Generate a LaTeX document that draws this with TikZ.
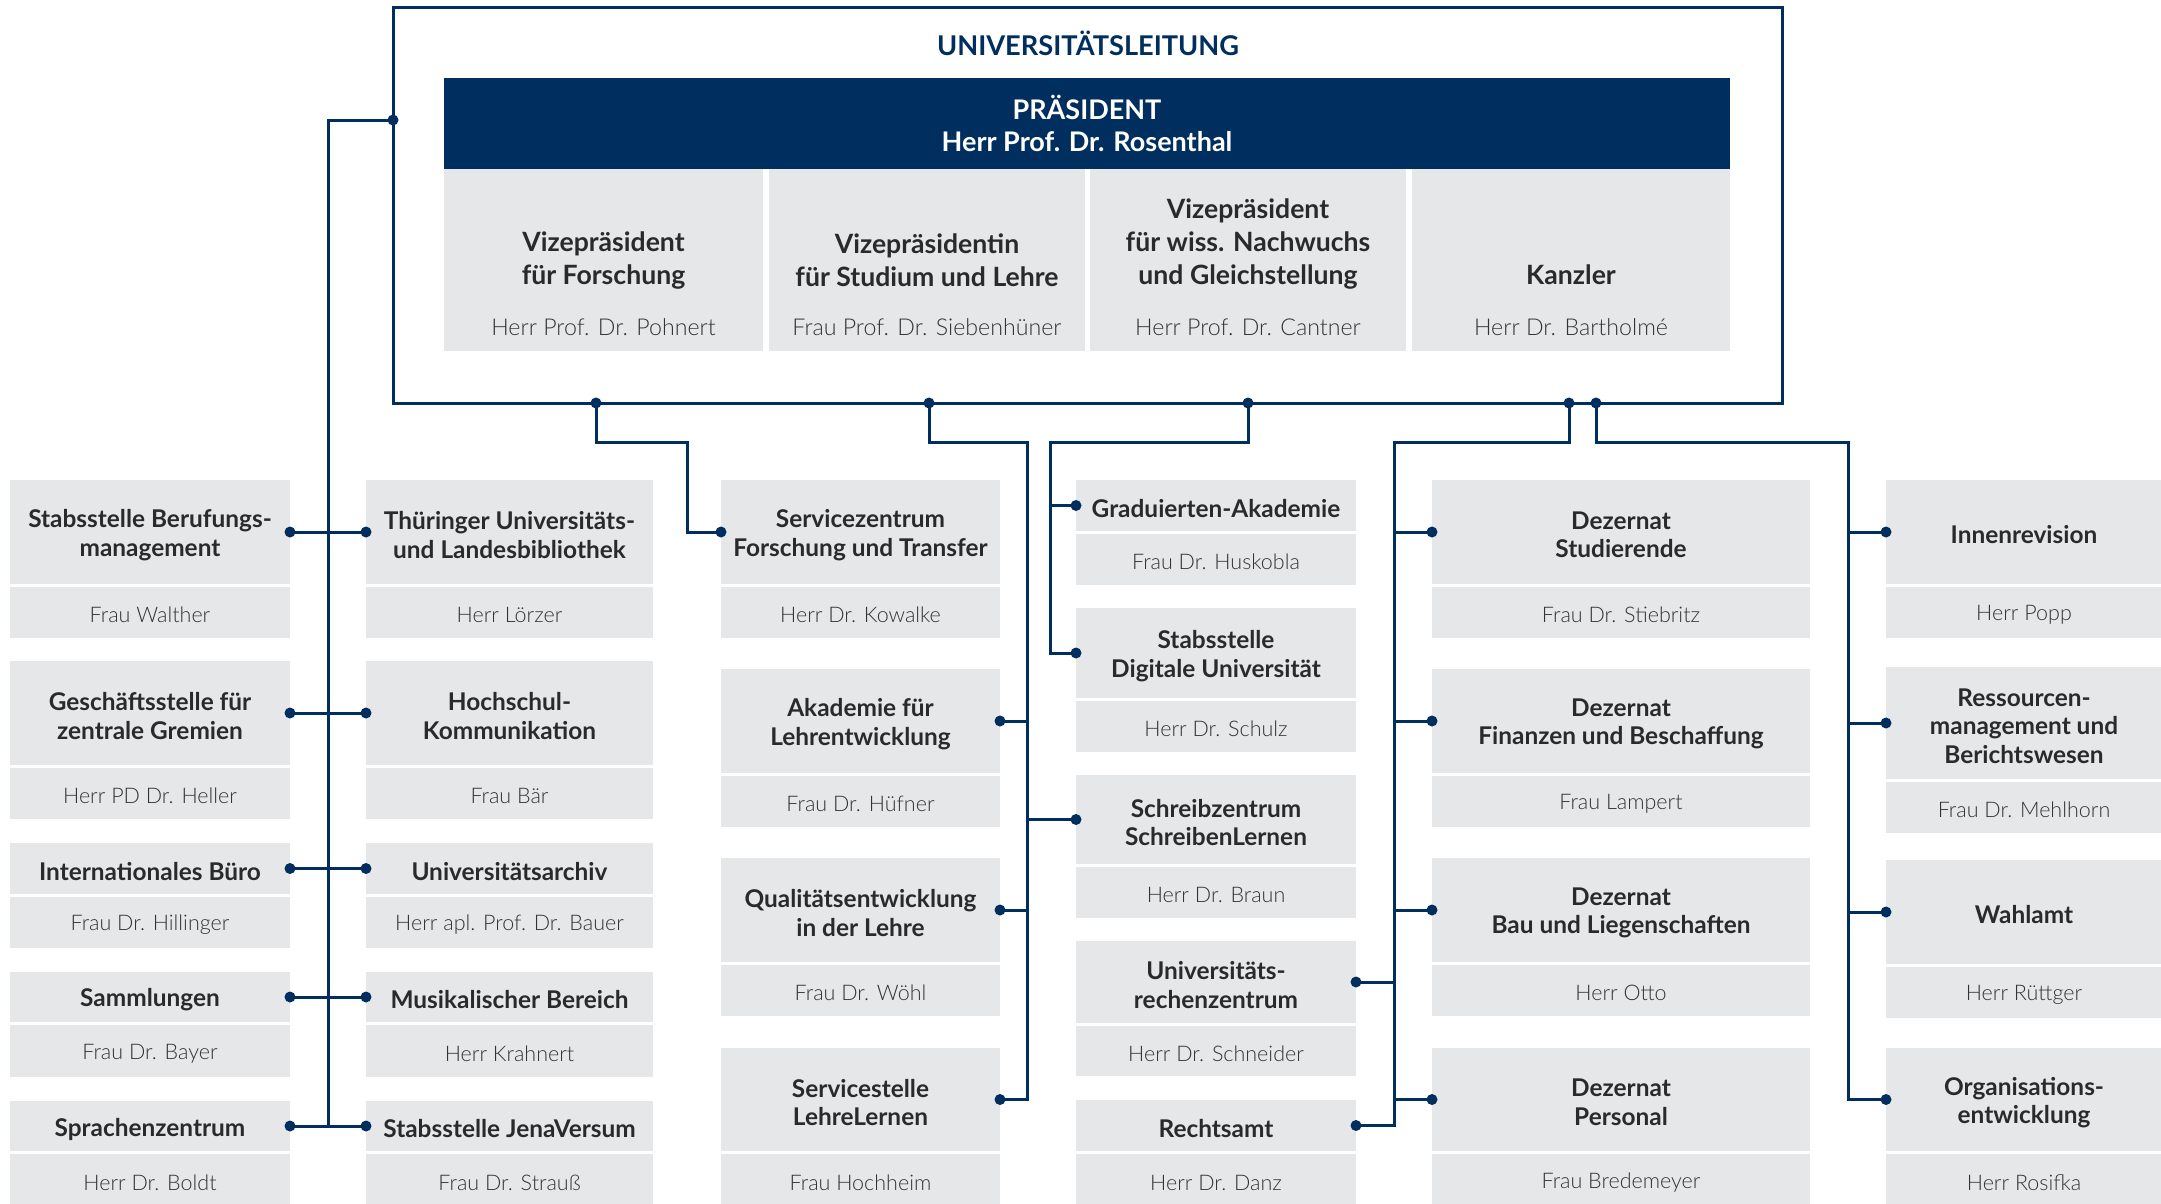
\documentclass[tikz,border=0pt]{standalone}
\usepackage{fontspec}
\setmainfont{Lato}
\newfontfamily\latolight{Lato Light}
\definecolor{navy}{HTML}{002F5F}
\definecolor{boxgray}{HTML}{E6E7E9}
\definecolor{ttlcol}{HTML}{2A2A2A}
\definecolor{namecol}{HTML}{333333}
\tikzset{
  conn/.style={draw=navy, line width=3pt},
  grayfill/.style={fill=boxgray, draw=none, inner sep=0pt, outer sep=0pt},
  titletext/.style={align=center, text=ttlcol, inner sep=0pt, font=\fontsize{24.4}{28.5}\selectfont\bfseries},
  nametext/.style={align=center, text=namecol, inner sep=0pt, font=\fontsize{21.5}{26}\selectfont\latolight},
  vpttl/.style={align=center, text=ttlcol, inner sep=0pt, font=\fontsize{26.6}{33}\selectfont\bfseries},
  vpname/.style={align=center, text=namecol, inner sep=0pt, font=\fontsize{23.2}{28}\selectfont\latolight}
}
\newcommand\orgbox[8]{%
  \pgfmathsetmacro\oBx{(#2+#3)/2}%
  \pgfmathsetmacro\oBw{#3-#2}%
  \pgfmathsetmacro\oTy{(#4+#5)/2}%
  \pgfmathsetmacro\oTh{#5-#4}%
  \pgfmathsetmacro\oNy{(#5+3+#6)/2}%
  \pgfmathsetmacro\oNh{#6-#5-3}%
  \node[grayfill, minimum width=\oBw pt, minimum height=\oTh pt] (#1) at (\oBx,\oTy) {};
  \node[grayfill, minimum width=\oBw pt, minimum height=\oNh pt] (#1-n) at (\oBx,\oNy) {};
  \node[titletext] (#1-tt) at ([yshift=-3pt]#1.center) {#7};
  \node[nametext] (#1-nt) at ([yshift=-2.5pt]#1-n.center) {#8};
}
\newcommand\jd[1]{\fill[navy] (#1) circle[radius=5.5pt];}
\begin{document}
\begin{tikzpicture}[x=1pt,y=-1pt]
\useasboundingbox (0,0) rectangle (2161,1203);
\fill[white] (0,0) rectangle (2161,1203);

% ---- Universitaetsleitung ----
\node[draw=navy, line width=3pt, minimum width=1389pt, minimum height=396pt, inner sep=0pt] (ul) at (1087.5,205) {};
\node[text=navy, font=\fontsize{27.2}{30}\selectfont\bfseries] (ult) at (1088,43) {UNIVERSITÄTSLEITUNG};
\node[fill=navy, minimum width=1286pt, minimum height=91pt, inner sep=0pt, text=white, align=center,
      font=\fontsize{27}{32}\selectfont\bfseries] (pres) at (1087,123.5) {PRÄSIDENT\\Herr Prof. Dr. Rosenthal};

\node[grayfill, minimum width=319pt, minimum height=182pt] (vp1) at (603.5,260) {};
\node[grayfill, minimum width=316pt, minimum height=182pt] (vp2) at (927,260) {};
\node[grayfill, minimum width=316pt, minimum height=182pt] (vp3) at (1248,260) {};
\node[grayfill, minimum width=318pt, minimum height=182pt] (vp4) at (1571,260) {};
\node[vpttl] (vp1t) at (603.5,260.5) {Vizepräsident\\für Forschung};
\node[vpttl] (vp2t) at (927,260.5) {Vizepräsidentin\\für Studium und Lehre};
\node[vpttl] (vp3t) at (1248,244.5) {Vizepräsident\\für wiss. Nachwuchs\\und Gleichstellung};
\node[vpttl] (vp4t) at (1571,275) {Kanzler};
\node[vpname] (vp1n) at (603.5,327) {Herr Prof. Dr. Pohnert};
\node[vpname] (vp2n) at (927,327) {Frau Prof. Dr. Siebenhüner};
\node[vpname] (vp3n) at (1248,327) {Herr Prof. Dr. Cantner};
\node[vpname] (vp4n) at (1571,327) {Herr Dr. Bartholmé};

% ---- column 1 ----
\orgbox{c1r1}{10}{290}{480}{584}{638}{Stabsstelle Berufungs-\\management}{Frau Walther}
\orgbox{c1r2}{10}{290}{661}{765}{819}{Geschäftsstelle für\\zentrale Gremien}{Herr PD Dr. Heller}
\orgbox{c1r3}{10}{290}{843}{894}{948}{Internationales Büro}{Frau Dr. Hillinger}
\orgbox{c1r4}{10}{290}{972}{1022}{1077}{Sammlungen}{Frau Dr. Bayer}
\orgbox{c1r5}{10}{290}{1101}{1151}{1206}{Sprachenzentrum}{Herr Dr. Boldt}
% ---- column 2 ----
\orgbox{c2r1}{366}{653}{480}{584}{638}{Thüringer Universitäts-\\und Landesbibliothek}{Herr Lörzer}
\orgbox{c2r2}{366}{653}{661}{765}{819}{Hochschul-\\Kommunikation}{Frau Bär}
\orgbox{c2r3}{366}{653}{843}{894}{948}{Universitätsarchiv}{Herr apl. Prof. Dr. Bauer}
\orgbox{c2r4}{366}{653}{972}{1022}{1077}{Musikalischer Bereich}{Herr Krahnert}
\orgbox{c2r5}{366}{653}{1101}{1151}{1206}{Stabsstelle JenaVersum}{Frau Dr. Strauß}
% ---- column 3 ----
\orgbox{c3r1}{721}{1000}{480}{584}{638}{Servicezentrum\\Forschung und Transfer}{Herr Dr. Kowalke}
\orgbox{c3r2}{721}{1000}{669}{773}{827}{Akademie für\\Lehrentwicklung}{Frau Dr. Hüfner}
\orgbox{c3r3}{721}{1000}{858}{962}{1016}{Qualitätsentwicklung\\in der Lehre}{Frau Dr. Wöhl}
\orgbox{c3r4}{721}{1000}{1048}{1151}{1206}{Servicestelle\\LehreLernen}{Frau Hochheim}
% ---- column 4 ----
\orgbox{c4r1}{1076}{1356}{480}{531}{585}{Graduierten-Akademie}{Frau Dr. Huskobla}
\orgbox{c4r2}{1076}{1356}{608}{698}{752}{Stabsstelle\\Digitale Universität}{Herr Dr. Schulz}
\orgbox{c4r3}{1076}{1356}{775}{864}{918}{Schreibzentrum\\SchreibenLernen}{Herr Dr. Braun}
\orgbox{c4r4}{1076}{1356}{941}{1023}{1076}{Universitäts-\\rechenzentrum}{Herr Dr. Schneider}
\orgbox{c4r5}{1076}{1356}{1100}{1151}{1206}{Rechtsamt}{Herr Dr. Danz}
% ---- column 5 ----
\orgbox{c5r1}{1432}{1810}{480}{584}{638}{Dezernat\\Studierende}{Frau Dr. Stiebritz}
\orgbox{c5r2}{1432}{1810}{669}{773}{827}{Dezernat\\Finanzen und Beschaffung}{Frau Lampert}
\orgbox{c5r3}{1432}{1810}{858}{962}{1016}{Dezernat\\Bau und Liegenschaften}{Herr Otto}
\orgbox{c5r4}{1432}{1810}{1048}{1151}{1206}{Dezernat\\Personal}{Frau Bredemeyer}
% ---- column 6 ----
\orgbox{c6r1}{1886}{2162}{480}{584}{638}{Innenrevision}{Herr Popp}
\orgbox{c6r2}{1886}{2162}{667}{779}{833}{Ressourcen-\\management und\\Berichtswesen}{Frau Dr. Mehlhorn}
\orgbox{c6r3}{1886}{2162}{860}{964}{1018}{Wahlamt}{Herr Rüttger}
\orgbox{c6r4}{1886}{2162}{1048}{1151}{1206}{Organisations-\\entwicklung}{Herr Rosifka}

% ---- connector coordinates ----
\coordinate (lt) at (393,120);
\coordinate (lb) at (328,120);
\coordinate (t1) at (596,403);
\coordinate (t2) at (929,403);
\coordinate (t3) at (1248,403);
\coordinate (t4) at (1569,403);
\coordinate (t5) at (1596,403);
\coordinate (b1) at (687,442);
\coordinate (b2) at (1027,442);
\coordinate (b3) at (1050,442);
\coordinate (b4) at (1394,442);
\coordinate (b5) at (1848,442);

% left trunk
\draw[conn] (lt) -- (lb) -- (lb |- c1r5.east);
\foreach \r in {1,...,5}{
  \draw[conn] (c1r\r.east) -- (c2r\r.west);
  \jd{c1r\r.east}\jd{c2r\r.west}
}
\jd{lt}
% servicezentrum
\draw[conn] (t1) |- (b1) |- (c3r1.west);
\jd{t1}\jd{c3r1.west}
% lehre trunk
\draw[conn] (t2) |- (b2) |- (c3r4.east);
\foreach \r in {2,3}{\draw[conn] (c3r\r.east) -- (c3r\r.east -| b2);}
\draw[conn] (b2 |- c4r3.west) -- (c4r3.west);
\jd{t2}\jd{c3r2.east}\jd{c3r3.east}\jd{c3r4.east}\jd{c4r3.west}
% nachwuchs
\draw[conn] (t3) |- (b3) |- (c4r2.west);
\draw[conn] (b3 |- c4r1.west) -- (c4r1.west);
\jd{t3}\jd{c4r1.west}\jd{c4r2.west}
% kanzler left
\draw[conn] (t4) |- (b4) |- (c4r5.east);
\foreach \r in {1,...,4}{\draw[conn] (b4 |- c5r\r.west) -- (c5r\r.west); \jd{c5r\r.west}}
\draw[conn] (c4r4.east) -- (c4r4.east -| b4);
\jd{t4}\jd{c4r4.east}\jd{c4r5.east}
% kanzler right
\draw[conn] (t5) |- (b5) |- (c6r4.west);
\foreach \r in {1,2,3}{\draw[conn] (b5 |- c6r\r.west) -- (c6r\r.west);}
\foreach \r in {1,...,4}{\jd{c6r\r.west}}
\jd{t5}
\end{tikzpicture}
\end{document}
